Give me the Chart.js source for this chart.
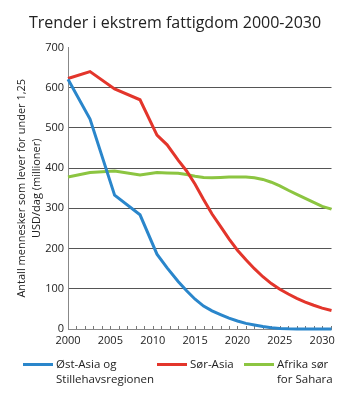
<!DOCTYPE html>
<html>
<head>
<meta charset="utf-8">
<script src="https://cdn.jsdelivr.net/npm/chart.js@4"></script>
<style>
  body { margin: 0; background: #fff; }
  #wrap { position: relative; width: 350px; height: 406px; }
  #legend { position: absolute; left: 0; top: 356px; width: 350px; font-family: "Open Sans", sans-serif; font-size: 11.5px; color: #222; }
  .item { position: absolute; top: 0; display: flex; align-items: flex-start; }
  .sw { width: 30px; height: 3px; margin-top: 7px; margin-right: 3px; }
  .txt { white-space: pre-line; line-height: 15px; }
</style>
</head>
<body>
<div id="wrap">
  <canvas id="myChart"></canvas>
  <div id="legend"></div>
</div>
<script>
// values (millions of people)
const years = [2000, 2002.6, 2005.5, 2008.5, 2010.5, 2011.7, 2013, 2014, 2015, 2016, 2017, 2018, 2019, 2020,
               2021, 2022, 2023, 2024, 2025, 2026, 2027, 2028, 2029, 2030, 2031.1];
const eastAsia = [621, 522, 333, 284, 186, 152, 118, 95, 74, 57, 45, 36, 27, 20,
                  14, 10, 6, 3, 1.5, 0.5, 0, 0, 0, 0, 0];
const southAsia = [623, 640, 597, 570, 482, 458, 420, 393, 360, 322, 286, 255, 224, 196,
                   172, 150, 130, 113, 99, 87, 76, 67, 59, 52, 46];
const africa = [378, 389, 393, 383, 389, 388, 387, 384, 380, 377, 376, 377, 378, 378,
                378, 376, 372, 365, 356, 345, 335, 325, 315, 305, 298];
const xTicks = [2000, 2005, 2010, 2015, 2020, 2025, 2030];
const yTicks = [0, 100, 200, 300, 400, 500, 600, 700];

const labels = ['Øst-Asia og\nStillehavsregionen', 'Sør-Asia', 'Afrika sør\nfor Sahara'];
const colors = ['#2a86cb', '#e3352b', '#8cc541'];
const legendX = [23, 157, 244];

function pts(vals) {
    return vals.map((v, i) => ({x: years[i], y: v}));
}

// small year ticks standing on the x axis
const minorTicks = {
    id: 'minorTicks',
    beforeDatasetsDraw(chart) {
        const x = chart.scales.x, ctx = chart.ctx;
        const bottom = chart.chartArea.bottom;
        ctx.save();
        ctx.strokeStyle = '#777';
        ctx.lineWidth = 1;
        for (let yr = 2001; yr <= 2031; yr++) {
            const px = Math.round(x.getPixelForValue(yr)) + 0.5;
            ctx.beginPath();
            ctx.moveTo(px, bottom);
            ctx.lineTo(px, bottom - 3);
            ctx.stroke();
        }
        ctx.restore();
    }
};

const font = "'Open Sans', sans-serif";
const ctx = document.getElementById('myChart').getContext('2d');
const myChart = new Chart(ctx, {
    type: 'line',
    data: {
        datasets: [eastAsia, southAsia, africa].map((vals, i) => ({
            label: labels[i],
            data: pts(vals),
            borderColor: colors[i],
            backgroundColor: colors[i],
            borderWidth: 3,
            pointRadius: 0,
            tension: 0,
            clip: 6
        }))
    },
    options: {
        responsive: true,
        maintainAspectRatio: false,
        animation: false,
        // equal side padding keeps the title centred on the page
        layout: { padding: { left: 18.5, right: 18.5, top: 0, bottom: 57 } },
        plugins: {
            legend: { display: false },
            tooltip: { enabled: false },
            title: {
                display: true,
                text: 'Trender i ekstrem fattigdom 2000-2030',
                color: '#222',
                font: { family: font, size: 16, weight: 'normal', lineHeight: 1.2 },
                padding: { top: 13.4, bottom: 14.9 }
            }
        },
        scales: {
            x: {
                type: 'linear',
                min: 2000,
                max: 2031.1,
                afterFit: s => { s.height = 20; },
                afterBuildTicks: s => { s.ticks = xTicks.map(v => ({value: v})); },
                grid: { display: false, drawTicks: false },
                border: { color: '#888', width: 1 },
                ticks: { color: '#222', padding: 5, font: { family: font, size: 11 }, callback: v => String(v), maxRotation: 0 }
            },
            y: {
                min: 0,
                max: 700,
                afterFit: s => { s.width = 49.5; },
                afterBuildTicks: s => { s.ticks = yTicks.map(v => ({value: v})); },
                grid: {
                    drawTicks: false,
                    color: c => (c.tick && (c.tick.value === 0 || c.tick.value === 700)) ? 'rgba(0,0,0,0)' : '#555'
                },
                border: { color: '#888', width: 1 },
                ticks: { color: '#222', padding: 4, font: { family: font, size: 11 } },
                title: {
                    display: true,
                    text: ['Antall mennesker som lever for under 1,25', 'USD/dag (millioner)'],
                    color: '#222',
                    font: { family: font, size: 11, lineHeight: 1.35 },
                    padding: { top: -4, bottom: 0 }
                }
            }
        }
    },
    plugins: [minorTicks]
});

// legend below the chart, built from the datasets
const legend = document.getElementById('legend');
myChart.data.datasets.forEach((ds, i) => {
    const item = document.createElement('div');
    item.className = 'item';
    item.style.left = legendX[i] + 'px';
    item.innerHTML = '<div class="sw" style="background:' + ds.borderColor + '"></div><div class="txt"></div>';
    item.querySelector('.txt').textContent = ds.label;
    legend.appendChild(item);
});
</script>
</body>
</html>
